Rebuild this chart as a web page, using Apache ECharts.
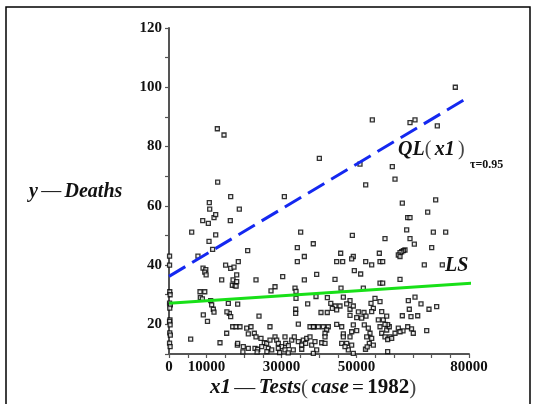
<!DOCTYPE html>
<html>
<head>
<meta charset="utf-8">
<script src="https://cdn.jsdelivr.net/npm/echarts@6/dist/echarts.min.js"></script>
<style>
  html, body { margin: 0; padding: 0; background: #fff; }
  #chart { width: 535px; height: 404px; }
</style>
</head>
<body>
<div id="chart"></div>
<script>
// Tests (x1) and deaths (y) per observation
const tests = [
  150,150,200,300,150,350,200,250,150,300,200,350,150,300,
  12890,14670,12980,40090,54220,64270,65600,76350,71550,50930,59550,52450,60270,
  30760,16450,10750,10850,18750,
  8990,10490,12000,12450,16350,6050,12450,10670,11630,7720,
  15100,16450,17330,18480,9080,9810,9540,9900,
  14050,17080,16890,17620,18050,18050,17900,
  8270,9540,8350,8900,11110,11380,11820,12000,9150,10260,
  15820,16090,16450,18310,15440,
  5780,13600,16980,17870,15380,18220,
  20980,35110,34220,36090,34220,38480,
  23200,30320,36090,
  28270,27200,33600,33870,33870,33780,33780,36980,24000,
  34490,37600,38670,18930,20720,21870,26930,21150,
  22750,23200,24530,25420,26050,26930,28270,28720,29150,30050,30930,31120,31820,32720,33410,34480,35390,35820,36450,36720,37600,
  18310,19810,21150,22930,23650,24720,26480,27390,29150,30930,33150,35390,38050,
  19700,23500,26100,29500,31800,
  48890,57600,45780,49150,48710,56090,44710,46310,52450,54050,56270,56980,49420,51110,39380,44270,
  56270,56980,45870,51820,39200,46490,48270,54930,56270,44270,45600,43550,44710,47380,48270,49150,
  40530,42210,53870,54490,54050,52000,52530,51380,48270,50050,56720,57150,58050,
  38490,39820,41150,42480,42050,41600,44720,46050,46490,49150,48710,50050,48270,52080,53150,53600,52720,
  54050,53420,54490,38930,39380,41600,40720,41600,46490,47380,46050,48710,47820,46930,
  55820,56270,56720,58050,57600,58750,38490,49150,
  42230,43140,50500,52400,52850,62400,64670,
  62220,71110,68980,63640,64270,63380,70490,73780,64270,65420,70050,
  62930,62490,62050,61600,61150,61600,68080,72880,61600,
  63820,65600,67200,64080,62220,64530,66320,69330,71380,
  63650,65150,61150,61600,60270,58930,58310,59380,68720,58310,57600,58310
];
const deaths = [
  43,40,31,30,27.2,26.6,25.5,21.5,21,19.8,17.1,16.4,13.7,12.5,
  86,83.9,68,76,89,88.1,89,100,87,74.1,73.2,67.1,69,
  63.1,63.1,61.1,58.9,58.9,
  55,54.1,56,57,55,51.1,50.2,48,45.3,43,
  40,38.9,39.3,41.2,39,38.5,37.6,36.7,
  35,35,33.2,33.1,36.7,34.4,32.9,
  31,31,29,28.6,28,26.6,25.1,24.1,23.2,21,
  27.1,23.7,22.6,26.8,24.2,
  15,13.8,19.2,19.2,17,13,
  44.9,51.1,45.9,42.9,41.2,47.2,
  35,36.1,35,
  32.7,31.3,32.2,31.1,28.8,25.1,23.7,26.9,22.8,
  20.1,19.2,19.2,19.2,18.7,19.2,19.2,16.8,
  17,15.8,15.3,13.8,13.6,14.7,15.8,14.7,13.6,12.5,15.8,13.6,12.8,14.7,15.8,14.2,13,14.7,13.6,15.3,15.8,
  13.6,12.5,11.9,11.9,11.6,12.5,11.9,11.4,11.9,11.4,11.4,11.6,13,
  10.7,10.7,10.8,10.5,10.4,
  50,48.9,44,42.9,42.1,44,41.2,41.2,41.2,40.1,41.2,41.2,38.1,37,36.9,35.2,
  33.9,33.9,32.2,32.2,29.4,29.2,28,28.8,27.7,26.2,26.2,25.4,24.9,26.9,25.1,26.2,
  24,24,27.1,25.4,24.3,24,22.8,22.1,23,22.3,24.3,21.5,22.8,
  19.2,19.2,19.2,19.2,18.1,17,20,19.2,16.8,19.8,17.5,17.9,15.8,19.8,18.7,17,15.8,
  15.3,13.6,13,14.2,11.4,15.8,13.8,13.6,15.8,13.6,13.6,13,11.4,12.5,
  21.5,19.2,17,18.1,15.8,19.2,10.2,10.2,
  29,27.1,24.2,11.6,12.4,17.8,18.5,
  60.9,62,57.9,56,56,51.9,51.1,51.1,48.9,47.1,45.9,
  45.1,44.9,44.5,44.2,43.4,42.9,40.1,40.1,35.2,
  28,29.2,26.9,25.1,22.9,22.6,22.9,25.1,26,
  19.2,17,18.7,17.5,17,15.8,14.9,15.3,17.9,19.9,20,10.8
];

// Fitted lines: 0.95-quantile regression and least squares (end points)
const qlLine = [[0, 36.2], [80300, 97]];
const lsLine = [[0, 27.1], [81000, 33.9]];

// Tick labels that are printed on each axis
const xTickLabels = [0, 10000, 30000, 50000, 80000];
const yTickLabels = [20, 40, 60, 80, 100, 120];

const points = tests.map((t, i) => [t, deaths[i]]);

const serif = 'Liberation Serif';
const chart = echarts.init(document.getElementById('chart'), null, { renderer: 'canvas' });

function face(style, weight, size, colour) {
  return { fontFamily: serif, fontStyle: style, fontWeight: weight, fontSize: size, fill: colour, color: colour };
}
const italic = face('italic', 'bold', 20, '#111');
const plain = face('normal', 'normal', 20, '#111');
const upright = face('normal', 'bold', 21, '#111');
const paren = face('normal', 'normal', 20, '#444');
const italicX = face('italic', 'bold', 21, '#111');
const plainX = face('normal', 'normal', 21, '#111');
const parenX = face('normal', 'normal', 21, '#444');

chart.setOption({
  animation: false,
  backgroundColor: '#fff',
  grid: { left: 169, right: 66, top: 28, bottom: 50 },
  xAxis: {
    type: 'value', min: 0, max: 80000, interval: 5000,
    splitLine: { show: false },
    axisLine: { lineStyle: { color: '#555', width: 2 } },
    axisTick: { length: 4, lineStyle: { color: '#555', width: 1.2 } },
    axisLabel: {
      margin: 6, color: '#111', fontFamily: serif, fontWeight: 'bold', fontSize: 15,
      formatter: v => (xTickLabels.includes(v) ? String(v) : '')
    }
  },
  yAxis: {
    type: 'value', min: 10, max: 120, interval: 10,
    splitLine: { show: false },
    axisLine: { lineStyle: { color: '#555', width: 2 } },
    axisTick: { length: 4, lineStyle: { color: '#555', width: 1.2 } },
    axisLabel: {
      margin: 7, color: '#111', fontFamily: serif, fontWeight: 'bold', fontSize: 15,
      formatter: v => (yTickLabels.includes(v) ? String(v) : '')
    }
  },
  series: [
    {
      type: 'scatter', data: points, symbol: 'rect', symbolSize: 4, z: 2,
      itemStyle: { color: '#e6e6e6', borderColor: '#000', borderWidth: 1.3 }
    },
    {
      type: 'line', data: qlLine, symbol: 'none', clip: false, z: 3,
      lineStyle: { color: '#1428f0', width: 3, type: [19, 8] }
    },
    {
      type: 'line', data: lsLine, symbol: 'none', clip: false, z: 3,
      lineStyle: { color: '#18e018', width: 3 }
    }
  ],
  graphic: [
    {
      type: 'rect', shape: { x: 6, y: 7, width: 524, height: 420 },
      style: { fill: 'none', stroke: '#000', lineWidth: 1.5 }
    },
    {
      type: 'text', x: 29, y: 192,
      style: {
        text: '{i|y} {n|—} {i|Deaths}', verticalAlign: 'middle',
        rich: { i: italic, n: plain }
      }
    },
    {
      type: 'text', x: 210, y: 388,
      style: {
        text: '{i|x1} {n|—} {i|Tests}{p|(} {i|case} {n|=} {b|1982}{p|)}', verticalAlign: 'middle',
        rich: { i: italicX, n: plainX, b: upright, p: parenX }
      }
    },
    {
      type: 'text', x: 398, y: 150,
      style: {
        text: '{i|QL}{p|(} {i|x1} {p|)}', verticalAlign: 'middle',
        rich: { i: italic, p: paren }
      }
    },
    {
      type: 'text', x: 470, y: 165,
      style: { text: 'τ=0.95', verticalAlign: 'middle', font: 'bold 12px "Liberation Serif"', fill: '#111' }
    },
    {
      type: 'text', x: 445, y: 266,
      style: { text: '{i|LS}', verticalAlign: 'middle', rich: { i: italic } }
    }
  ]
});
</script>
</body>
</html>
